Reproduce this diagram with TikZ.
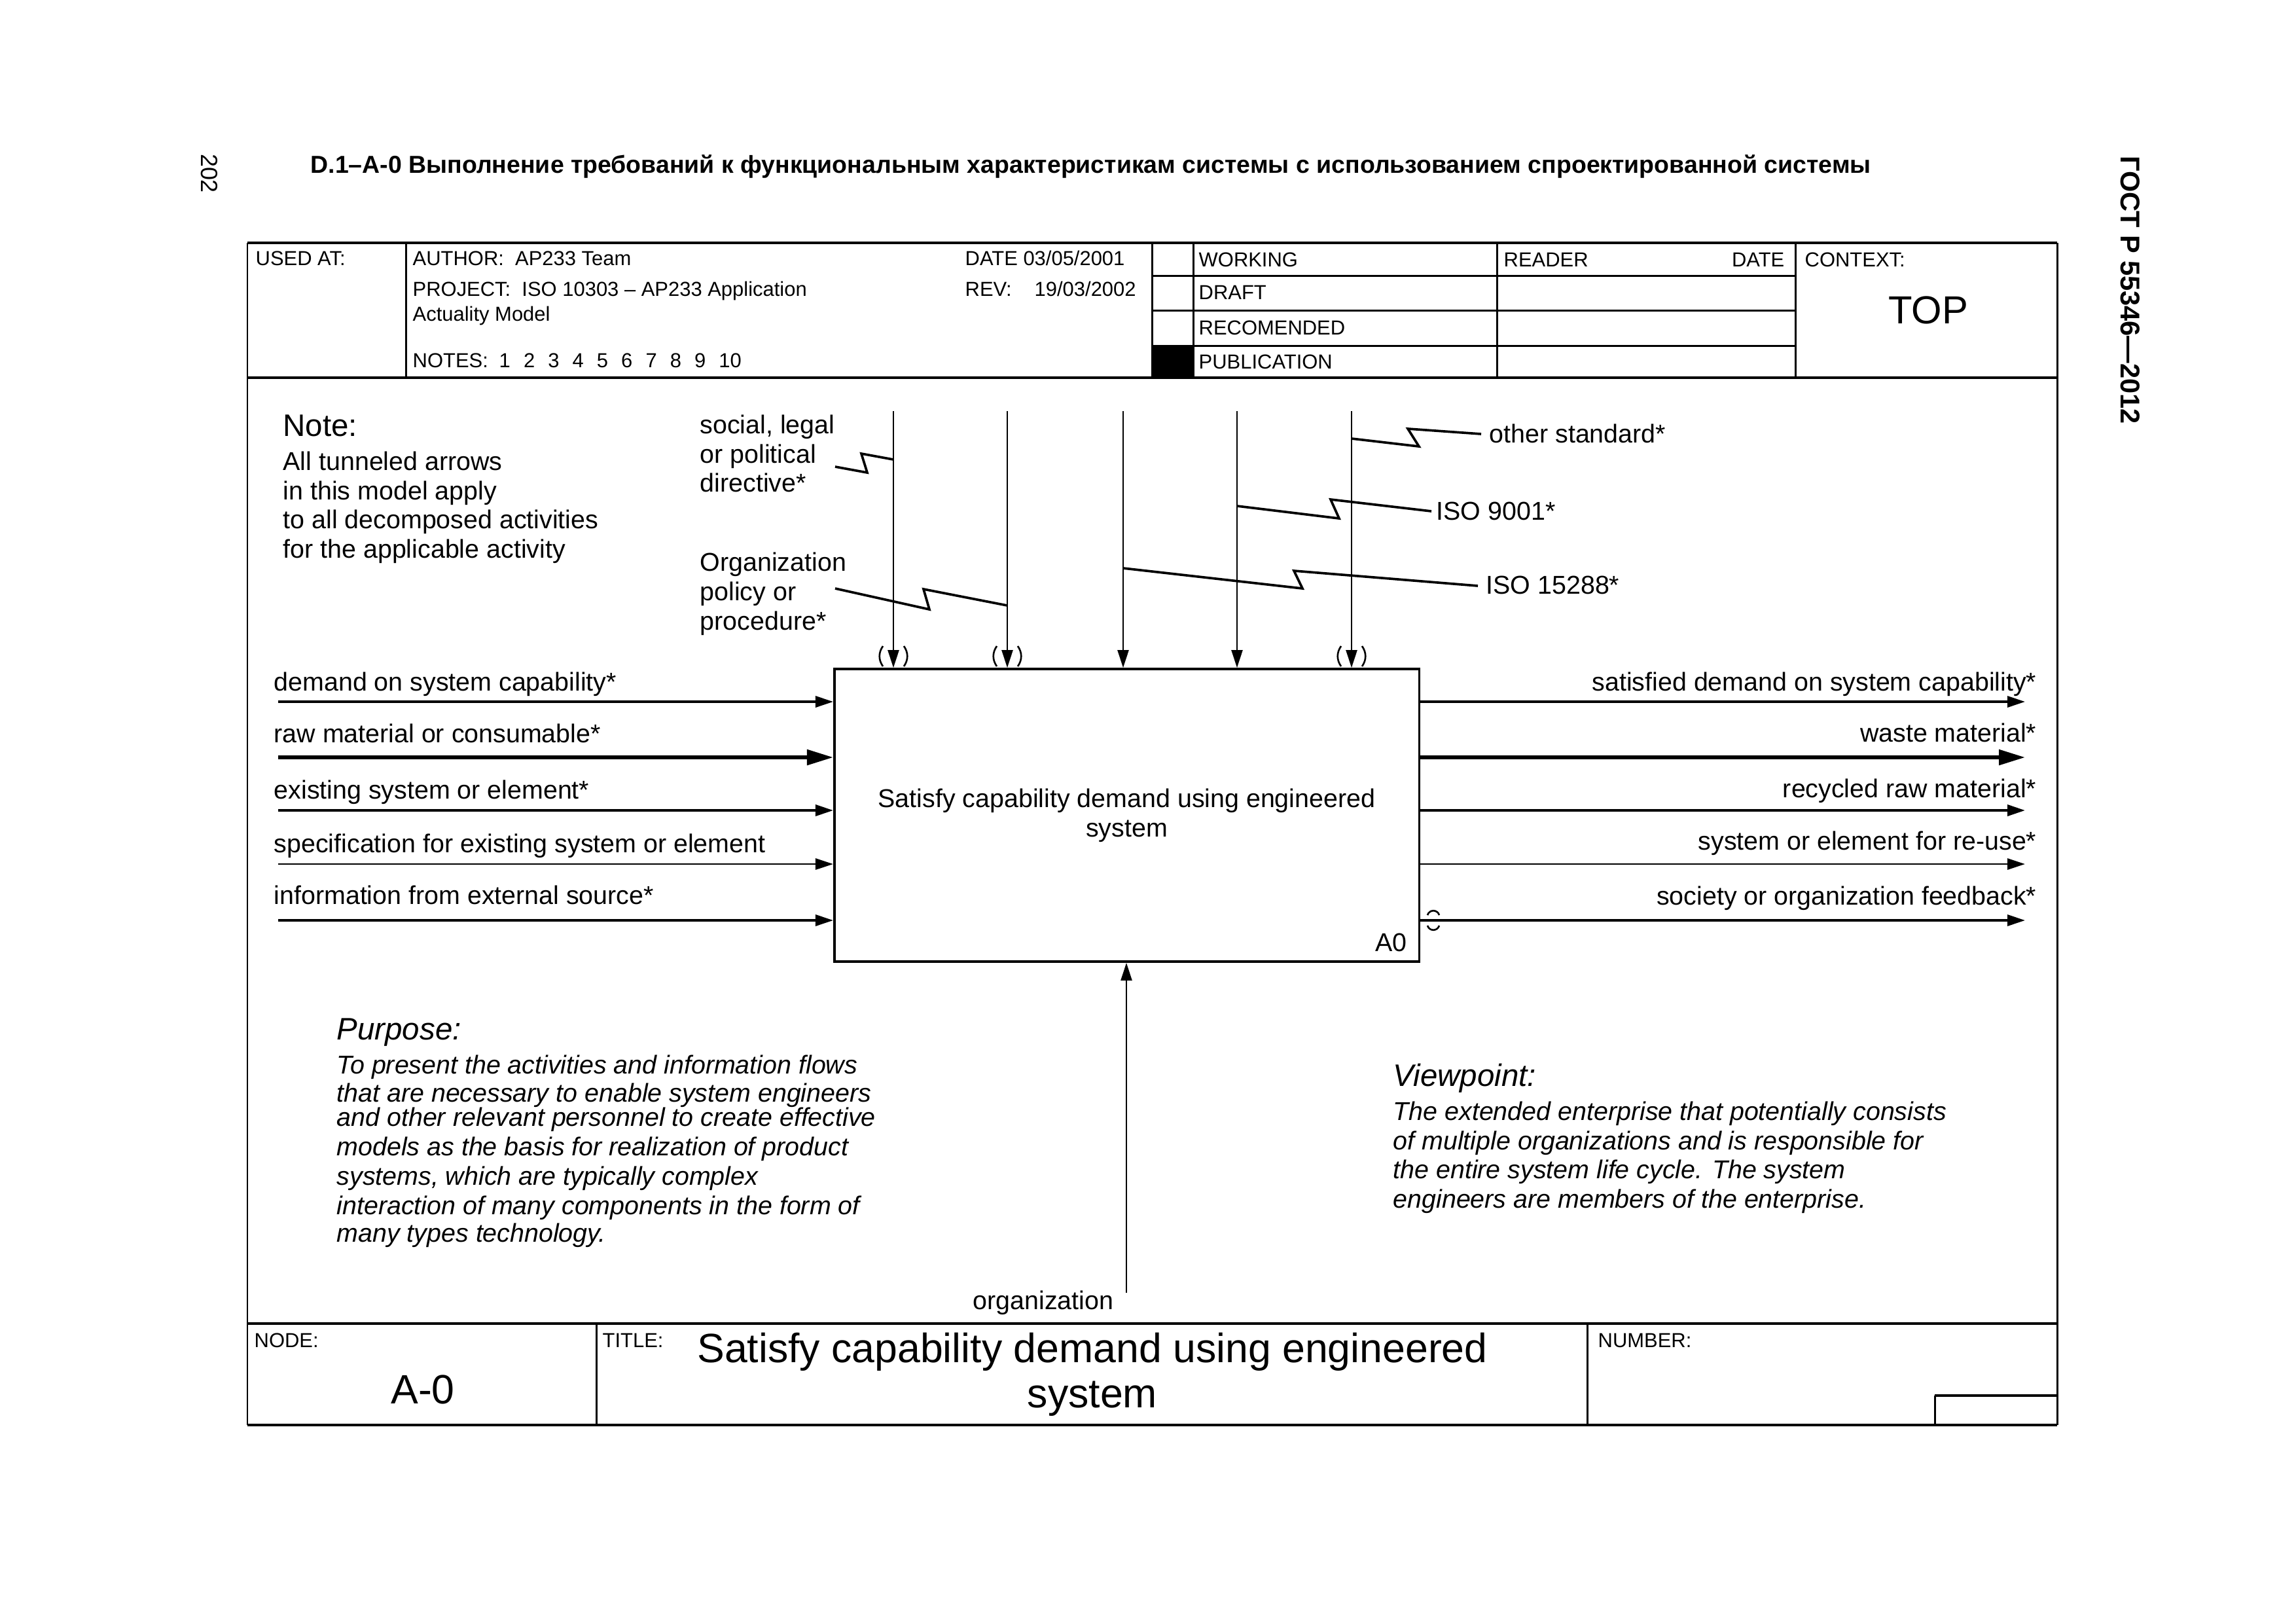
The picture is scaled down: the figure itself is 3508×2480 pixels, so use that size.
\documentclass[tikz,border=0pt]{standalone}
\usepackage{fontspec}
\setmainfont{Liberation Sans}
\usetikzlibrary{arrows.meta}

\tikzset{
  tipn/.tip={Triangle[length=2.7mm,width=1.7mm]},
  tipw/.tip={Triangle[length=4mm,width=2.3mm]},
  rulethick/.style={line width=1.25pt},
  rulethin/.style={line width=0.85pt},
  hdr/.style={font=\fontsize{8.8}{10}\selectfont, inner sep=0pt, yshift=-0.25mm},
  lbl/.style={font=\fontsize{11.2}{12.7}\selectfont, inner sep=0pt, yshift=-0.45mm},
  ilbl/.style={font=\fontsize{11.2}{12.7}\selectfont\itshape, inner sep=0pt, yshift=-0.45mm},
  headlbl/.style={font=\fontsize{13.5}{15}\selectfont, inner sep=0pt, yshift=-0.65mm},
  iheadlbl/.style={font=\fontsize{13.5}{15}\selectfont\itshape, inner sep=0pt, yshift=-0.65mm},
  biglbl/.style={font=\fontsize{17.8}{20}\selectfont, inner sep=0pt, yshift=-1.15mm},
  ctrlarrow/.style={line width=0.65pt, -{tipn}},
  zigline/.style={line width=1.05pt},
  tunnelmark/.style={line width=0.75pt},
  flowmid/.style={line width=0.95pt, -{tipn}},
  flowthick/.style={line width=1.6pt, -{tipw}},
  flowthin/.style={line width=0.75pt, -{tipn}},
}

\begin{document}
\begin{tikzpicture}[x=0.01cm,y=-0.01cm]
\useasboundingbox (0,0) rectangle (3508,2480);

% ---------- page header ----------
\node[font=\fontsize{10.65}{12}\selectfont\bfseries, inner sep=0pt, anchor=mid west, yshift=-0.4mm] (pagetitle) at (474,251)
  {D.1–A-0 Выполнение требований к функциональным характеристикам системы с использованием спроектированной системы};
\node[font=\fontsize{10.2}{12}\selectfont, inner sep=0pt, rotate=-90] (pagenum) at (320,265) {202};
\node[font=\fontsize{11.8}{13}\selectfont\bfseries, inner sep=0pt, rotate=-90] (gost) at (3255,443) {ГОСТ Р 55346—2012};

% ---------- frame ----------
\draw[rulethin] (378,371) -- (378,2177);
\draw[rulethin] (3143,371) -- (3143,2177);
\draw[rulethick] (378,371) -- (3143,371);
\draw[rulethick] (378,577) -- (3143,577);
\draw[rulethick] (378,2022) -- (3143,2022);
\draw[rulethick] (378,2177) -- (3143,2177);

% header grid
\draw[rulethin] (620,371) -- (620,577);
\draw[rulethin] (1760,371) -- (1760,577);
\draw[rulethin] (1823,371) -- (1823,577);
\draw[rulethin] (2287,371) -- (2287,577);
\draw[rulethin] (2743,371) -- (2743,577);
\draw[rulethin] (1760,421) -- (2743,421);
\draw[rulethin] (1760,474) -- (2743,474);
\draw[rulethin] (1760,528) -- (2743,528);
\fill (1760,528) rectangle (1823,577);

% header texts
\node[hdr, anchor=mid west] (usedat) at (390,394) {USED AT:};
\node[hdr, anchor=mid west] (author) at (630,394) {AUTHOR:~~AP233 Team};
\node[hdr, anchor=mid west] (date1) at (1474,394) {DATE 03/05/2001};
\node[hdr, anchor=mid west] (project) at (630,441) {PROJECT:~~ISO 10303 – AP233 Application};
\node[hdr, anchor=mid west] (rev) at (1474,441) {REV:};
\node[hdr, anchor=mid west] (revdate) at (1580,441) {19/03/2002};
\node[hdr, anchor=mid west] (project2) at (630,479) {Actuality Model};
\node[hdr, anchor=mid west] (notes) at (630,550) {NOTES:};
\foreach \i in {1,...,10} {
  \node[hdr, anchor=mid west] (note\i) at ({762+37.3*(\i-1)},550) {\i};
}
\node[hdr, anchor=mid west] (working) at (1831,396) {WORKING};
\node[hdr, anchor=mid west] (draft) at (1831,446) {DRAFT};
\node[hdr, anchor=mid west] (recom) at (1831,500) {RECOMENDED};
\node[hdr, anchor=mid west] (publ) at (1831,552) {PUBLICATION};
\node[hdr, anchor=mid west] (reader) at (2297,396) {READER};
\node[hdr, anchor=mid east] (date2) at (2727,396) {DATE};
\node[hdr, anchor=mid west] (context) at (2757,396) {CONTEXT:};
\node[font=\fontsize{17}{19}\selectfont, inner sep=0pt, anchor=mid, yshift=-1.2mm] (top) at (2946,473) {TOP};

% footer grid
\draw[rulethin] (911,2022) -- (911,2177);
\draw[rulethin] (2425,2022) -- (2425,2177);
\draw[rulethick] (2956,2132) -- (3143,2132);
\draw[rulethin] (2956,2132) -- (2956,2177);

% footer texts
\node[hdr, anchor=mid west] (nodelbl) at (388,2047) {NODE:};
\node[hdr, anchor=mid west] (titlelbl) at (920,2047) {TITLE:};
\node[hdr, anchor=mid west] (numberlbl) at (2441,2047) {NUMBER:};
\node[biglbl, anchor=mid] (nodeval) at (646,2124) {A-0};
\node[biglbl, anchor=mid] (titleval1) at (1669,2061) {Satisfy capability demand using engineered};
\node[biglbl, anchor=mid] (titleval2) at (1669,2130) {system};

% ---------- note ----------
\node[headlbl, anchor=mid west] (notehead) at (432,651) {Note:};
\node[lbl, anchor=mid west] (notel1) at (432,705) {All tunneled arrows};
\node[lbl, anchor=mid west] (notel2) at (432,750) {in this model apply};
\node[lbl, anchor=mid west] (notel3) at (432,794) {to all decomposed activities};
\node[lbl, anchor=mid west] (notel4) at (432,839) {for the applicable activity};

% ---------- activity box ----------
\node[draw, line width=1pt, minimum width=8.93cm, minimum height=4.47cm, inner sep=0pt,
      align=center, font=\fontsize{11.2}{12.7}\selectfont] (box) at (1721.5,1245.5)
  {Satisfy capability demand using engineered\\system};
\node[lbl, anchor=mid east] (boxnum) at (2150,1440) {A0};

% ---------- controls ----------
\foreach \nm/\cx in {c1/1365,c2/1539,c3/1716,c4/1890,c5/2065} {
  \coordinate (\nm) at (\cx,628);
  \draw[ctrlarrow] (\nm) -- (\nm |- box.north);
}
\foreach \cx in {1365,1539,2065} {
  \draw[tunnelmark] (\cx-16,987) .. controls (\cx-23,997) and (\cx-23,1008) .. (\cx-16,1018);
  \draw[tunnelmark] (\cx+16,987) .. controls (\cx+23,997) and (\cx+23,1008) .. (\cx+16,1018);
}

\node[lbl, anchor=mid west] (soc1) at (1069,649) {social, legal};
\node[lbl, anchor=mid west] (soc2) at (1069,694) {or political};
\node[lbl, anchor=mid west] (soc3) at (1069,738) {directive*};
\node[lbl, anchor=mid west] (org1) at (1069,859) {Organization};
\node[lbl, anchor=mid west] (org2) at (1069,904) {policy or};
\node[lbl, anchor=mid west] (org3) at (1069,949) {procedure*};
\node[lbl, anchor=mid west] (othstd) at (2275,663) {other standard*};
\node[lbl, anchor=mid west] (iso9001) at (2194,781) {ISO 9001*};
\node[lbl, anchor=mid west] (iso15288) at (2270,894) {ISO 15288*};

\coordinate (z1a) at (1276,713); \coordinate (z1b) at (1325,722); \coordinate (z1c) at (1316,693);
\coordinate (z1d) at (1365,702);
\draw[zigline] (z1a) -- (z1b) -- (z1c) -- (z1d);
\coordinate (z2a) at (1276,899); \coordinate (z2b) at (1420,931); \coordinate (z2c) at (1411,900);
\coordinate (z2d) at (1539,925);
\draw[zigline] (z2a) -- (z2b) -- (z2c) -- (z2d);
\coordinate (z3a) at (2065,670); \coordinate (z3b) at (2168,682); \coordinate (z3c) at (2151,655);
\coordinate (z3d) at (2263,663);
\draw[zigline] (z3a) -- (z3b) -- (z3c) -- (z3d);
\coordinate (z4a) at (1890,773); \coordinate (z4b) at (2046,792); \coordinate (z4c) at (2033,763);
\coordinate (z4d) at (2187,781);
\draw[zigline] (z4a) -- (z4b) -- (z4c) -- (z4d);
\coordinate (z5a) at (1716,868); \coordinate (z5b) at (1990,899); \coordinate (z5c) at (1977,872);
\coordinate (z5d) at (2258,895);
\draw[zigline] (z5a) -- (z5b) -- (z5c) -- (z5d);

% ---------- inputs ----------
\node[lbl, anchor=mid west] (in1l) at (418,1042) {demand on system capability*};
\node[lbl, anchor=mid west] (in2l) at (418,1121) {raw material or consumable*};
\node[lbl, anchor=mid west] (in3l) at (418,1207) {existing system or element*};
\node[lbl, anchor=mid west] (in4l) at (418,1289) {specification for existing system or element};
\node[lbl, anchor=mid west] (in5l) at (418,1368) {information from external source*};
\coordinate (in1) at (425,1072);
\coordinate (in2) at (425,1157);
\coordinate (in3) at (425,1238);
\coordinate (in4) at (425,1320);
\coordinate (in5) at (425,1406);
\draw[flowmid] (in1) -- (in1 -| box.west);
\draw[flowthick] (in2) -- (in2 -| box.west);
\draw[flowmid, line width=1.05pt] (in3) -- (in3 -| box.west);
\draw[flowthin] (in4) -- (in4 -| box.west);
\draw[flowmid] (in5) -- (in5 -| box.west);

% ---------- outputs ----------
\node[lbl, anchor=mid east] (out1l) at (3112,1042) {satisfied demand on system capability*};
\node[lbl, anchor=mid east] (out2l) at (3112,1120) {waste material*};
\node[lbl, anchor=mid east] (out3l) at (3112,1205) {recycled raw material*};
\node[lbl, anchor=mid east] (out4l) at (3112,1285) {system or element for re-use*};
\node[lbl, anchor=mid east] (out5l) at (3112,1369) {society or organization feedback*};
\coordinate (out1) at (3094,1072);
\coordinate (out2) at (3094,1157);
\coordinate (out3) at (3094,1238);
\coordinate (out4) at (3094,1320);
\coordinate (out5) at (3094,1406);
\draw[flowmid] (out1 -| box.east) -- (out1);
\draw[flowthick] (out2 -| box.east) -- (out2);
\draw[flowmid, line width=1.1pt] (out3 -| box.east) -- (out3);
\draw[flowthin] (out4 -| box.east) -- (out4);
\draw[flowmid] (out5 -| box.east) -- (out5);
\draw[tunnelmark] (2181,1398) .. controls (2184,1389) and (2196,1389) .. (2199,1398);
\draw[tunnelmark] (2181,1414) .. controls (2184,1423) and (2196,1423) .. (2199,1414);

% ---------- mechanism ----------
\coordinate (mech) at (1721,1975);
\draw[ctrlarrow] (mech) -- (mech |- box.south);
\node[lbl, anchor=mid east] (mechl) at (1702,1987) {organization};

% ---------- purpose / viewpoint ----------
\node[iheadlbl, anchor=mid west] (purp) at (514,1573) {Purpose:};
\node[ilbl, anchor=mid west] (p1) at (514,1627) {To present the activities and information flows};
\node[ilbl, anchor=mid west] (p2) at (514,1670) {that are necessary to enable system engineers};
\node[ilbl, anchor=mid west] (p3) at (514,1707) {and other relevant personnel to create effective};
\node[ilbl, anchor=mid west] (p4) at (514,1752) {models as the basis for realization of product};
\node[ilbl, anchor=mid west] (p5) at (514,1797) {systems, which are typically complex};
\node[ilbl, anchor=mid west] (p6) at (514,1842) {interaction of many components in the form of};
\node[ilbl, anchor=mid west] (p7) at (514,1884) {many types technology.};

\node[iheadlbl, anchor=mid west] (vp) at (2128,1644) {Viewpoint:};
\node[ilbl, anchor=mid west] (v1) at (2128,1698) {The extended enterprise that potentially consists};
\node[ilbl, anchor=mid west] (v2) at (2128,1743) {of multiple organizations and is responsible for};
\node[ilbl, anchor=mid west] (v3) at (2128,1787) {the entire system life cycle. The system};
\node[ilbl, anchor=mid west] (v4) at (2128,1832) {engineers are members of the enterprise.};

\end{tikzpicture}
\end{document}
